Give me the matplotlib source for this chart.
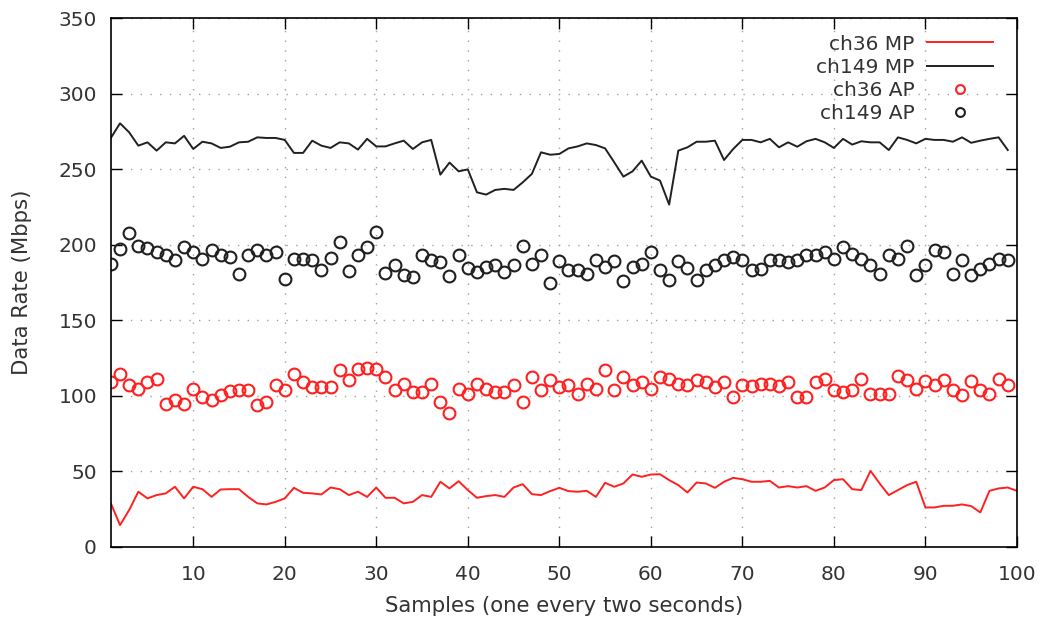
import matplotlib
matplotlib.use('Agg')
import matplotlib.pyplot as plt
import numpy as np

# data rate per sample (Mbps)
ch36_mp = [28.7, 14.3, 24.3, 36.4, 32.0, 34.2, 35.3, 39.7, 32.0, 39.7,
           38.1, 33.0, 37.9, 38.1, 38.1, 33.0, 28.7, 28.0, 29.7, 32.0,
           39.0, 35.7, 35.3, 34.6, 39.2, 38.1, 34.2, 36.4, 33.0, 39.2,
           32.4, 32.4, 28.7, 29.7, 34.2, 33.0, 43.0, 38.6, 43.4, 37.5,
           32.4, 33.5, 34.2, 33.0, 39.2, 41.4, 34.8, 34.2, 36.8, 39.0,
           36.8, 36.4, 37.0, 33.0, 42.3, 39.7, 41.9, 47.8, 46.3, 47.8,
           48.0, 44.1, 40.8, 35.9, 42.5, 41.9, 39.0, 43.0, 45.6, 44.7,
           43.0, 43.0, 43.6, 39.2, 40.1, 39.2, 40.1, 37.0, 39.2, 44.1,
           44.7, 38.1, 37.5, 50.2, 41.9, 34.2, 37.5, 40.8, 43.0, 26.0,
           26.0, 27.1, 27.1, 28.0, 26.9, 22.7, 37.0, 38.6, 39.2, 37.0]

ch149_mp = [270.6, 280.3, 274.3, 265.5, 267.7, 262.2, 267.7, 267.0, 272.0, 263.3,
            268.1, 267.0, 264.0, 264.8, 267.7, 268.1, 271.0, 270.6, 270.6, 269.3,
            260.7, 260.7, 268.8, 265.5, 264.0, 267.7, 267.0, 262.9, 270.0, 265.0,
            265.0, 267.0, 268.8, 263.3, 267.7, 269.3, 246.3, 254.3, 248.5, 249.8,
            234.6, 233.1, 236.2, 236.9, 236.2, 241.2, 246.8, 261.1, 259.5, 260.0,
            263.7, 265.0, 267.0, 265.9, 263.7, 254.5, 245.0, 248.5, 255.6, 245.0,
            242.4, 226.5, 262.2, 264.4, 268.1, 268.1, 268.8, 256.0, 263.3, 269.3,
            269.3, 267.7, 270.0, 264.4, 267.7, 264.8, 268.4, 270.0, 267.7, 264.0,
            270.0, 266.2, 268.4, 267.7, 267.7, 262.6, 271.0, 269.3, 267.0, 270.0,
            269.3, 269.3, 268.1, 271.0, 267.4, 268.8, 270.0, 271.0, 262.6]

ch36_ap = [109.1, 114.6, 106.9, 104.7, 109.1, 111.3, 94.8, 97.4, 94.8, 104.7,
           99.1, 97.4, 100.3, 102.9, 104.0, 104.0, 93.7, 95.8, 106.9, 103.6,
           114.6, 109.1, 105.8, 105.8, 105.8, 116.8, 110.2, 117.4, 118.6, 117.9,
           112.4, 103.6, 108.0, 102.4, 102.4, 108.0, 95.8, 88.2, 104.7, 101.4,
           108.0, 104.7, 102.4, 102.4, 106.9, 95.8, 112.4, 103.6, 110.2, 105.8,
           106.9, 101.4, 108.0, 104.7, 116.8, 103.6, 112.4, 106.9, 109.1, 104.7,
           112.4, 111.3, 108.0, 106.9, 110.2, 109.1, 105.8, 109.1, 99.1, 106.9,
           106.4, 107.5, 107.5, 106.4, 109.1, 99.1, 99.1, 109.1, 111.3, 103.6,
           102.4, 103.6, 111.3, 101.4, 101.4, 101.4, 113.0, 110.2, 104.7, 109.5,
           106.9, 110.2, 103.6, 100.3, 109.5, 103.6, 101.4, 111.3, 106.9]

ch149_ap = [187.3, 197.2, 207.6, 199.4, 197.9, 195.0, 192.8, 189.9, 198.3, 195.0,
            190.6, 196.1, 192.8, 191.7, 180.7, 192.8, 196.1, 192.8, 195.4, 176.9,
            190.6, 190.6, 189.5, 183.3, 191.0, 201.6, 182.2, 192.8, 198.3, 208.2,
            181.1, 186.2, 179.6, 178.5, 192.8, 189.9, 188.4, 178.9, 192.8, 184.4,
            181.8, 185.1, 186.2, 181.8, 186.2, 199.4, 187.3, 192.8, 174.5, 189.0,
            183.3, 183.3, 180.7, 189.9, 185.1, 189.0, 175.8, 185.1, 187.3, 195.4,
            183.3, 176.7, 189.0, 184.4, 176.7, 183.3, 186.2, 189.9, 191.7, 189.5,
            182.9, 184.0, 189.5, 189.5, 188.4, 189.5, 192.8, 192.8, 195.4, 190.6,
            198.3, 193.9, 190.6, 186.2, 180.7, 193.2, 190.6, 199.4, 179.6, 186.2,
            196.1, 195.0, 180.7, 189.5, 179.6, 184.0, 187.3, 190.6, 189.5]

x_ticks = [10, 20, 30, 40, 50, 60, 70, 80, 90, 100]
y_ticks = [0, 50, 100, 150, 200, 250, 300, 350]

txt = '#333333'
red = '#ff2020'
blk = '#202020'

fig = plt.figure(figsize=(10.43, 6.21), dpi=100)
ax = fig.add_axes([0.1063, 0.1196, 0.8687, 0.8514])

ax.plot(np.arange(1, len(ch36_mp) + 1), ch36_mp, color=red, lw=1.4, label='ch36 MP')
ax.plot(np.arange(1, len(ch149_mp) + 1), ch149_mp, color=blk, lw=1.4, label='ch149 MP')
ax.plot(np.arange(1, len(ch36_ap) + 1), ch36_ap, ls='none', marker='o', ms=8.5,
        mfc='none', mec=red, mew=1.5, label='ch36 AP')
ax.plot(np.arange(1, len(ch149_ap) + 1), ch149_ap, ls='none', marker='o', ms=8.5,
        mfc='none', mec=blk, mew=1.5, label='ch149 AP')

ax.set_xlim(1, 100)
ax.set_ylim(0, 350)
ax.set_xticks(x_ticks)
ax.set_yticks(y_ticks)
ax.grid(True, color='#a0a0a0', linestyle=(0, (1, 6)), lw=1)
ax.tick_params(direction='in', length=8, width=1, top=True, right=True,
               labelsize=14.5, labelcolor=txt)
ax.tick_params(axis='x', pad=13)
ax.tick_params(axis='y', pad=10)
for s in ax.spines.values():
    s.set_linewidth(1.2)

ax.set_xlabel('Samples (one every two seconds)', fontsize=15.3, color=txt, labelpad=9)
ax.set_ylabel('Data Rate (Mbps)', fontsize=15.3, color=txt, labelpad=19)

leg = ax.legend(loc='upper right', bbox_to_anchor=(0.994, 1.003), frameon=False,
                markerfirst=False, fontsize=14.5, handlelength=3.3, markerscale=0.75,
                labelspacing=0.2, handletextpad=0.6)
for t in leg.get_texts():
    t.set_color(txt)

fig.savefig('out.png', dpi=100)
